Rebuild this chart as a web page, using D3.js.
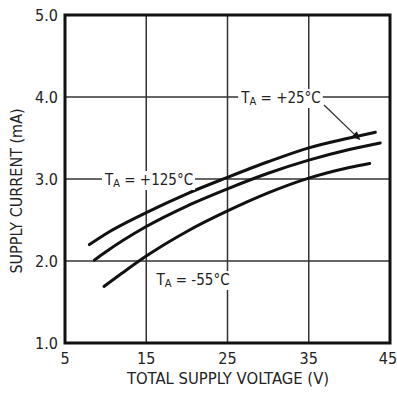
<!DOCTYPE html>
<html lang="en">
<head>
<meta charset="utf-8">
<script src="https://d3js.org/d3.v7.min.js"></script>
<style>
body { margin: 0; background: white; }
text { font-family: "DejaVu Sans Condensed", "Liberation Sans Narrow", sans-serif; fill: #222; }
</style>
</head>
<body>
<script>
// data: volts vs supply current (mA)
var volts25 = [8, 10, 15, 20, 25, 30, 35, 40, 43.2];
var amps25 = [2.20, 2.33, 2.59, 2.82, 3.02, 3.21, 3.38, 3.50, 3.57];
var volts125 = [8.6, 10, 15, 20, 25, 30, 35, 40, 43.8];
var amps125 = [2.01, 2.11, 2.42, 2.67, 2.88, 3.07, 3.23, 3.36, 3.44];
var voltsM55 = [9.8, 12, 15, 20, 25, 30, 35, 40, 42.5];
var ampsM55 = [1.69, 1.85, 2.06, 2.36, 2.61, 2.83, 3.01, 3.14, 3.19];

var xTicks = [5, 15, 25, 35, 45];
var yTicks = [1, 2, 3, 4, 5];

var width = 397, height = 394;
var margin = {left: 65, right: 7, top: 15, bottom: 51};

var svg = d3.select("body").append("svg")
    .attr("width", width)
    .attr("height", height);

var x = d3.scaleLinear().domain([5, 45]).range([margin.left, width - margin.right]);
var y = d3.scaleLinear().domain([1, 5]).range([height - margin.bottom, margin.top]);

// grid
svg.selectAll(".vgrid")
    .data(xTicks)
    .enter().append("line")
    .attr("x1", function(d) { return x(d); })
    .attr("x2", function(d) { return x(d); })
    .attr("y1", y(1)).attr("y2", y(5))
    .style("stroke", "#333").style("stroke-width", 1.5);

svg.selectAll(".hgrid")
    .data(yTicks)
    .enter().append("line")
    .attr("x1", x(5)).attr("x2", x(45))
    .attr("y1", function(d) { return y(d); })
    .attr("y2", function(d) { return y(d); })
    .style("stroke", "#333").style("stroke-width", 1.5);

// tick labels
svg.selectAll(".xlab")
    .data(xTicks)
    .enter().append("text")
    .attr("x", function(d) { return d == 45 ? x(d) - 2 : x(d); })
    .attr("y", y(1) + 21)
    .attr("text-anchor", "middle")
    .style("font-size", "16px")
    .text(function(d) { return d; });

svg.selectAll(".ylab")
    .data(yTicks)
    .enter().append("text")
    .attr("x", x(5) - 7)
    .attr("y", function(d) { return y(d) + 6; })
    .attr("text-anchor", "end")
    .style("font-size", "16px")
    .text(function(d) { return d.toFixed(1); });

// axis titles
svg.append("text")
    .attr("x", 228)
    .attr("y", height - 10)
    .attr("text-anchor", "middle")
    .style("font-size", "16.5px")
    .text("TOTAL SUPPLY VOLTAGE (V)");

svg.append("text")
    .attr("transform", "translate(22,191) rotate(-90)")
    .attr("text-anchor", "middle")
    .style("font-size", "16px")
    .text("SUPPLY CURRENT (mA)");

// curves
var line = d3.line()
    .x(function(d) { return x(d[0]); })
    .y(function(d) { return y(d[1]); })
    .curve(d3.curveMonotoneX);

[[volts25, amps25], [volts125, amps125], [voltsM55, ampsM55]].forEach(function(s) {
    svg.append("path")
        .datum(d3.zip(s[0], s[1]))
        .attr("d", line)
        .style("fill", "none")
        .style("stroke", "#111")
        .style("stroke-width", 3)
        .style("stroke-linecap", "round");
});

// labels with white background
function label(cx, cy, sign) {
    var g = svg.append("g");
    var t = g.append("text")
        .attr("x", cx).attr("y", cy + 6)
        .attr("text-anchor", "middle")
        .style("font-size", "15px");
    t.append("tspan").text("T");
    t.append("tspan").style("font-size", "11px").attr("dy", 2).text("A");
    t.append("tspan").attr("dy", -2).text(" = " + sign + "°C");
    var b = t.node().getBBox();
    g.insert("rect", "text")
        .attr("x", b.x - 2).attr("y", b.y)
        .attr("width", b.width + 4).attr("height", b.height)
        .style("fill", "white");
}

label(149, y(3), "+125");
label(281, y(4), "+25");
label(193, 279, "-55");

// arrow for +25 label
svg.append("defs").append("marker")
    .attr("id", "arr")
    .attr("viewBox", "0 0 10 10")
    .attr("refX", 10).attr("refY", 5)
    .attr("markerWidth", 10).attr("markerHeight", 8)
    .attr("markerUnits", "userSpaceOnUse")
    .attr("orient", "auto")
    .append("path").attr("d", "M0,0L10,5L0,10Z").style("fill", "#111");

svg.append("line")
    .attr("x1", 324).attr("y1", 105)
    .attr("x2", x(41.3)).attr("y2", y(3.48))
    .style("stroke", "#333").style("stroke-width", 1.3)
    .attr("marker-end", "url(#arr)");

// frame
svg.append("rect")
    .attr("x", x(5)).attr("y", y(5))
    .attr("width", x(45) - x(5)).attr("height", y(1) - y(5))
    .style("fill", "none").style("stroke", "#111").style("stroke-width", 3);
</script>
</body>
</html>
